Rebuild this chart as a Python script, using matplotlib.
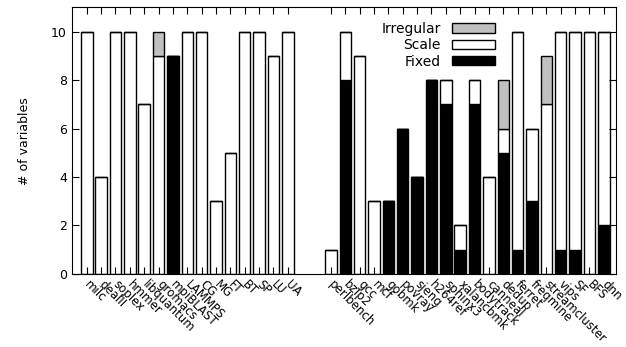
import matplotlib
matplotlib.use("Agg")
import matplotlib.pyplot as plt
import numpy as np
from matplotlib.patches import Patch

# benchmarks, split into two groups with a gap between them
left_names = ["milc", "dealII", "soplex", "hmmer", "libquantum", "gromacs",
              "mpiBLAST", "LAMMPS", "CG", "MG", "FT", "BT", "SP", "LU", "UA"]
right_names = ["perlbench", "bzip2", "gcc", "mcf", "gobmk", "povray", "sjeng",
               "h264ref", "sphinx3", "xalancbmk", "bodytrack", "canneal",
               "dedup", "ferret", "freqmine", "streamcluster", "vips", "SF",
               "BFS", "dnn"]

left_fixed = [0, 0, 0, 0, 0, 0, 9, 0, 0, 0, 0, 0, 0, 0, 0]
left_scale = [10, 4, 10, 10, 7, 9, 0, 10, 10, 3, 5, 10, 10, 9, 10]
left_irregular = [0, 0, 0, 0, 0, 1, 0, 0, 0, 0, 0, 0, 0, 0, 0]

right_fixed = [0, 8, 0, 0, 3, 6, 4, 8, 7, 1, 7, 0, 5, 1, 3, 0, 1, 1, 0, 2]
right_scale = [1, 2, 9, 3, 0, 0, 0, 0, 1, 1, 1, 4, 1, 9, 3, 7, 9, 9, 10, 8]
right_irregular = [0, 0, 0, 0, 0, 0, 0, 0, 0, 0, 0, 0, 2, 0, 0, 2, 0, 0, 0, 0]

GAP = 2

names = left_names + right_names
fixed = np.array(left_fixed + right_fixed)
scale = np.array(left_scale + right_scale)
irregular = np.array(left_irregular + right_irregular)
x = np.concatenate([np.arange(len(left_names)),
                    np.arange(len(right_names)) + len(left_names) + GAP])

GRAY = "#c0c0c0"
W = 0.8

fig = plt.figure(figsize=(6.26, 3.47), dpi=100)
ax = fig.add_axes([0.1145, 0.2104, 0.8695, 0.7686])

kw = dict(width=W, edgecolor="black", linewidth=1.0)
ax.bar(x, fixed, color="black", **kw)
ax.bar(x, scale, bottom=fixed, color="white", **kw)
ax.bar(x, irregular, bottom=fixed + scale, color=GRAY, **kw)

ax.set_xlim(-1.05, x[-1] + 0.85)
ax.set_ylim(0, 11)
ax.set_yticks(range(0, 11, 2))
ax.set_xticks(x)
ax.set_xticklabels(names, rotation=-45, ha="left", va="center",
                   rotation_mode="anchor", fontsize=8.5)
ax.tick_params(axis="both", direction="in", length=5, width=0.8,
               top=True, right=True, labelsize=9)
ax.tick_params(axis="x", pad=6, labelsize=8.5)
ax.set_ylabel("# of variables", fontsize=9, labelpad=14)

handles = [Patch(facecolor=GRAY, edgecolor="black", linewidth=1.0),
           Patch(facecolor="white", edgecolor="black", linewidth=1.0),
           Patch(facecolor="black", edgecolor="black", linewidth=1.0)]
ax.legend(handles, ["Irregular", "Scale", "Fixed"], loc="upper right",
          bbox_to_anchor=(0.778, 0.945), frameon=False, markerfirst=False,
          handlelength=3.1, handleheight=0.65, labelspacing=0.17,
          borderpad=0, borderaxespad=0, handletextpad=0.8, fontsize=10)

fig.savefig("out.png", dpi=100)
